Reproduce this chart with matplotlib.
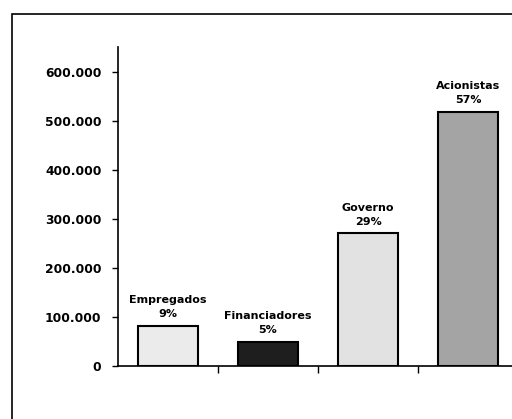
import matplotlib
matplotlib.use("Agg")
import matplotlib.pyplot as plt
from matplotlib.patches import Rectangle
from matplotlib.ticker import FuncFormatter

# -----------------------------
# Dados
# -----------------------------
categorias = ["Empregados", "Financiadores", "Governo", "Acionistas"]
valores = [82000, 49000, 270000, 517000]
percentuais = ["9%", "5%", "29%", "57%"]
cores = ["#ebebeb", "#1e1e1e", "#e2e2e2", "#a4a4a4"]
yticks = [0, 100000, 200000, 300000, 400000, 500000, 600000]

plt.rcParams["font.family"] = ["DejaVu Sans"]
plt.rcParams["font.weight"] = "bold"

W, H = 512, 419
fig = plt.figure(figsize=(W / 100, H / 100), dpi=100)

# moldura externa (cortada à direita e embaixo)
fig.patches.append(Rectangle((12 / W, -0.1), 1.2, 1 - 14 / H + 0.1,
                             transform=fig.transFigure, fill=False,
                             edgecolor="black", linewidth=1.2))

ax = fig.add_axes([118 / W, 1 - 366 / H, 400 / W, (366 - 47) / H])
x = list(range(len(categorias)))
ax.bar(x, valores, width=0.6, color=cores, edgecolor="black", linewidth=1.5)

for xi, v, nome, pct in zip(x, valores, categorias, percentuais):
    ax.annotate(f"{nome}\n{pct}", (xi, v), xytext=(0, 5), textcoords="offset points",
                ha="center", va="bottom", fontsize=8, fontweight="bold",
                linespacing=1.5)

ax.set_xlim(-0.5, 3.5)
ax.set_ylim(0, 650000)
ax.set_yticks(yticks)
ax.yaxis.set_major_formatter(FuncFormatter(lambda v, p: f"{int(v):,}".replace(",", ".")))
ax.set_xticks([0.5, 1.5, 2.5, 3.5])
ax.set_xticklabels([])
ax.tick_params(axis="y", direction="out", length=4, width=1, labelsize=8.8, pad=8)
ax.tick_params(axis="x", direction="out", length=5, width=1)
for t in ax.get_yticklabels():
    t.set_fontweight("bold")

ax.spines["top"].set_visible(False)
ax.spines["right"].set_visible(False)
ax.spines["left"].set_linewidth(1.2)
ax.spines["bottom"].set_linewidth(1.2)

fig.savefig("out.png", dpi=100)
